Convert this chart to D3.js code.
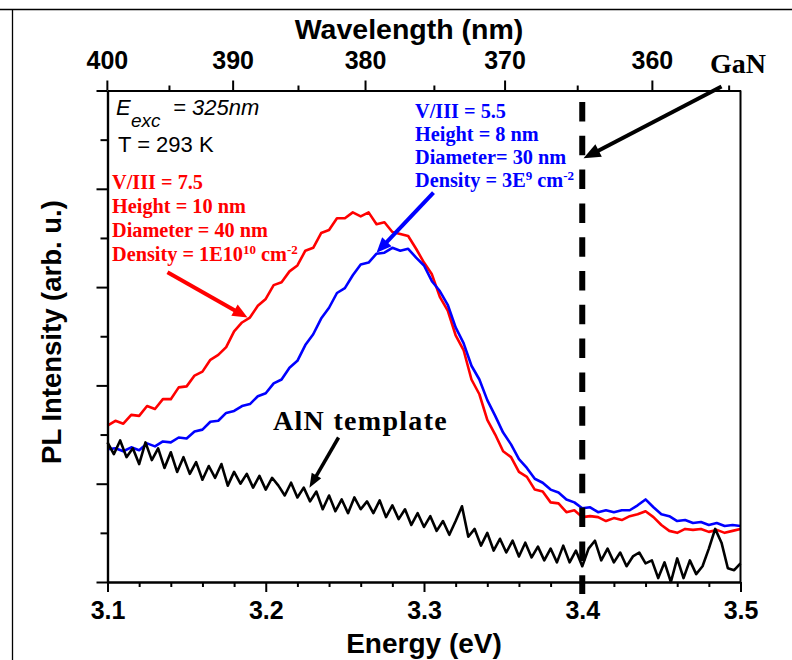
<!DOCTYPE html>
<html>
<head>
<meta charset="utf-8">
<script src="https://cdn.jsdelivr.net/npm/d3@7"></script>
<style>
  html, body { margin: 0; padding: 0; background: #fff; }
  svg { display: block; }
</style>
</head>
<body>
<svg id="chart" width="792" height="660"></svg>
<script>
// ---- data -------------------------------------------------------------
// Photon energy grid (eV): start and step of each sampled spectrum
const energyStart = 3.1;
const spectrumStep = 0.005;   // QD spectra
const templateStep = 0.004;   // AlN template spectrum

// PL intensity (arb. u.), QD sample grown with V/III = 7.5
const redPL = [
  159, 164, 161, 170, 169, 179, 176, 186, 186, 198,
  199, 210, 214, 226, 231, 239, 255, 264, 269, 281,
  288, 302, 305, 316, 322, 337, 340, 355, 358, 370,
  370, 376, 372, 376, 364, 366, 356, 354, 352, 339,
  325, 313, 290, 276, 251, 236, 206, 191, 165, 150,
  133, 127, 112, 107, 94, 92, 81, 80, 71, 73,
  66, 67, 66, 62, 65, 63, 67, 69, 72, 66,
  58, 52, 50, 54, 53, 54, 51, 53, 50, 52, 54
];

// PL intensity (arb. u.), QD sample grown with V/III = 5.5
const bluePL = [
  135, 136, 133, 137, 134, 141, 138, 143, 142, 147,
  146, 153, 155, 163, 164, 172, 174, 179, 181, 189,
  192, 202, 206, 218, 225, 241, 252, 268, 279, 294,
  299, 312, 323, 325, 334, 335, 340, 337, 339, 330,
  322, 306, 296, 282, 259, 243, 220, 206, 185, 169,
  152, 140, 125, 116, 105, 101, 94, 91, 84, 81,
  75, 76, 71, 73, 71, 73, 73, 78, 84, 76,
  69, 67, 62, 63, 60, 61, 58, 60, 57, 58, 57
];

// PL intensity (arb. u.), bare AlN template
const alnPL = [
  142, 130, 144, 127, 136, 120, 142, 124, 136, 116,
  132, 112, 127, 110, 122, 104, 118, 106, 120, 98,
  112, 100, 110, 96, 108, 94, 106, 98, 88, 101,
  86, 96, 82, 92, 74, 88, 72, 84, 70, 86,
  74, 82, 70, 83, 66, 78, 64, 74, 58, 70,
  56, 67, 52, 62, 48, 62, 77, 46, 54, 37,
  50, 32, 44, 30, 42, 26, 40, 25, 36, 22,
  34, 20, 37, 20, 32, 16, 34, 42, 22, 34,
  20, 30, 16, 26, 30, 19, 22, 4, 20, 0,
  24, 4, 22, 8, 16, 34, 54, 40, 14, 12, 19
];

// Axis ticks
const energyTicks = [3.1, 3.2, 3.3, 3.4, 3.5];
const energyMinorTicks = [3.12, 3.14, 3.16, 3.18, 3.22, 3.24, 3.26, 3.28,
                          3.32, 3.34, 3.36, 3.38, 3.42, 3.44, 3.46, 3.48];
const wavelengthTicks = [400, 390, 380, 370, 360];
const wavelengthMinorTicks = [395, 385, 375, 365, 355];
const intensityTicks = [0, 100, 200, 300, 400, 500];
const intensityMinorTicks = [50, 150, 250, 350, 450];

// GaN band-edge energy (eV)
const ganEdge = 3.4;

// ---- scales -------------------------------------------------------------
const HC = 1239.84; // eV·nm
const svg = d3.select('#chart');
const x = d3.scaleLinear().domain([3.1, 3.5]).range([107.5, 740.5]);
const y = d3.scaleLinear().domain([0, 500]).range([582, 90.5]);

const sans = '"Liberation Sans", Arial, Helvetica, sans-serif';
const serif = '"Liberation Serif", "Times New Roman", Times, serif';

// figure frame
svg.append('line').attr('x1', 0).attr('x2', 792).attr('y1', 9.5).attr('y2', 9.5)
  .attr('stroke', '#000').attr('stroke-width', 1.3);
svg.append('line').attr('x1', 12.5).attr('x2', 12.5).attr('y1', 9).attr('y2', 660)
  .attr('stroke', '#000').attr('stroke-width', 1.3);

// ---- curves -------------------------------------------------------------
const toSeries = (arr, step) => arr.map((v, i) => ({ e: energyStart + i * step, v }));
const line = d3.line().x(d => x(d.e)).y(d => y(d.v));

const gCurves = svg.append('g');
[
  { data: toSeries(redPL, spectrumStep), color: '#ff0000' },
  { data: toSeries(bluePL, spectrumStep), color: '#0000ff' },
  { data: toSeries(alnPL, templateStep), color: '#000000' }
].forEach(s => {
  gCurves.append('path')
    .datum(s.data)
    .attr('d', line)
    .attr('fill', 'none')
    .attr('stroke', s.color)
    .attr('stroke-width', 2.6)
    .attr('stroke-linejoin', 'round');
});

// ---- axes ---------------------------------------------------------------
function styleAxis(g, fontSize) {
  g.select('.domain').attr('stroke', '#000').attr('stroke-width', 2.2);
  g.selectAll('.tick line').attr('stroke', '#000').attr('stroke-width', 2);
  g.selectAll('.tick text')
    .attr('fill', '#000')
    .style('font-family', sans)
    .style('font-weight', 'bold')
    .style('font-size', fontSize + 'px');
}

// bottom: energy
const gBottom = svg.append('g').attr('transform', 'translate(0,582)');
gBottom.call(d3.axisBottom(x).tickValues(energyTicks).tickFormat(d3.format('.1f'))
  .tickSize(10).tickPadding(9).tickSizeOuter(0));
styleAxis(gBottom, 25);
const gBottomMinor = svg.append('g').attr('transform', 'translate(0,582)');
gBottomMinor.call(d3.axisBottom(x).tickValues(energyMinorTicks).tickFormat('')
  .tickSize(5).tickSizeOuter(0));
styleAxis(gBottomMinor, 25);

// top: wavelength (nonlinear in energy)
const gTop = svg.append('g').attr('transform', 'translate(0,90.5)');
gTop.call(d3.axisTop(x).tickValues(wavelengthTicks.map(w => HC / w))
  .tickFormat(e => Math.round(HC / e))
  .tickSize(10).tickPadding(12).tickSizeOuter(0));
styleAxis(gTop, 25);
const gTopMinor = svg.append('g').attr('transform', 'translate(0,90.5)');
gTopMinor.call(d3.axisTop(x).tickValues(wavelengthMinorTicks.map(w => HC / w))
  .tickFormat('').tickSize(5).tickSizeOuter(0));
styleAxis(gTopMinor, 25);

// left: intensity (unlabelled)
const gLeft = svg.append('g').attr('transform', 'translate(107.5,0)');
gLeft.call(d3.axisLeft(y).tickValues(intensityTicks).tickFormat('')
  .tickSize(11).tickSizeOuter(0));
styleAxis(gLeft, 25);
const gLeftMinor = svg.append('g').attr('transform', 'translate(107.5,0)');
gLeftMinor.call(d3.axisLeft(y).tickValues(intensityMinorTicks).tickFormat('')
  .tickSize(7).tickSizeOuter(0));
styleAxis(gLeftMinor, 25);

// right frame edge
svg.append('line')
  .attr('x1', x(3.5)).attr('x2', x(3.5))
  .attr('y1', y(500)).attr('y2', y(0))
  .attr('stroke', '#000').attr('stroke-width', 2);

// axis titles
svg.append('text').attr('x', 409).attr('y', 39).attr('text-anchor', 'middle')
  .style('font-family', sans).style('font-weight', 'bold').style('font-size', '28.5px')
  .text('Wavelength (nm)');
svg.append('text').attr('x', 424).attr('y', 653).attr('text-anchor', 'middle')
  .style('font-family', sans).style('font-weight', 'bold').style('font-size', '28px')
  .text('Energy (eV)');
svg.append('text').attr('transform', 'translate(60.5,332) rotate(-90)')
  .attr('text-anchor', 'middle')
  .style('font-family', sans).style('font-weight', 'bold').style('font-size', '27.5px')
  .text('PL Intensity (arb. u.)');

// ---- GaN band edge ------------------------------------------------------
svg.append('line')
  .attr('x1', x(ganEdge)).attr('x2', x(ganEdge))
  .attr('y1', 102).attr('y2', 594)
  .attr('stroke', '#000').attr('stroke-width', 6)
  .attr('stroke-dasharray', '19.5 14.3');

// ---- annotations ----------------------------------------------------------
function arrow(e1, v1, e2, v2, color, width, headLen, headWidth) {
  const x1 = x(e1), y1 = y(v1), x2 = x(e2), y2 = y(v2);
  const dx = x2 - x1, dy = y2 - y1, L = Math.hypot(dx, dy);
  const ux = dx / L, uy = dy / L;
  const bx = x2 - ux * headLen, by = y2 - uy * headLen;
  svg.append('line')
    .attr('x1', x1).attr('y1', y1).attr('x2', bx + ux * 2).attr('y2', by + uy * 2)
    .attr('stroke', color).attr('stroke-width', width);
  svg.append('path')
    .attr('d', `M${x2},${y2}L${bx - uy * headWidth / 2},${by + ux * headWidth / 2}` +
               `L${bx + uy * headWidth / 2},${by - ux * headWidth / 2}Z`)
    .attr('fill', color);
}

arrow(3.1379, 315, 3.1885, 269, '#ff0000', 4, 15, 13);   // V/III = 7.5 label
arrow(3.3060, 396, 3.2700, 335, '#0000ff', 4, 15, 13);   // V/III = 5.5 label
arrow(3.2460, 147, 3.2276, 96, '#000000', 3.5, 14, 11);  // AlN template label
arrow(3.4880, 504, 3.4008, 431, '#000000', 4, 17, 14);   // GaN label

// excitation and temperature
const tExc = svg.append('text').attr('y', 115)
  .style('font-family', sans).style('font-style', 'italic').style('font-size', '22px');
tExc.append('tspan').attr('x', 116).text('E');
tExc.append('tspan').attr('x', 131).attr('dy', 12).style('font-size', '19px').text('exc');
tExc.append('tspan').attr('x', 173).attr('dy', -12).text('= 325nm');

svg.append('text').attr('x', 118).attr('y', 152)
  .style('font-family', sans).style('font-size', '22px').text('T = 293 K');

// sample descriptions; array parts are superscripts
function block(x0, y0, dy, color, lines) {
  const g = svg.append('g');
  lines.forEach((parts, i) => {
    const t = g.append('text').attr('x', x0).attr('y', y0 + i * dy)
      .attr('fill', color)
      .style('font-family', serif).style('font-weight', 'bold').style('font-size', '20.3px');
    let raised = false;
    parts.forEach(p => {
      if (Array.isArray(p)) {
        t.append('tspan').attr('dy', raised ? 0 : -7).style('font-size', '13px').text(p[0]);
        raised = true;
      } else {
        t.append('tspan').attr('dy', raised ? 7 : 0).text(p);
        raised = false;
      }
    });
  });
}

block(112, 189, 24, '#ff0000', [
  ['V/III = 7.5'],
  ['Height = 10 nm'],
  ['Diameter = 40 nm'],
  ['Density = 1E10', ['10'], ' cm', ['-2']]
]);

block(415, 118, 23, '#0000ff', [
  ['V/III = 5.5'],
  ['Height = 8 nm'],
  ['Diameter= 30 nm'],
  ['Density = 3E', ['9'], ' cm', ['-2']]
]);

svg.append('text').attr('x', 273).attr('y', 430)
  .style('font-family', serif).style('font-weight', 'bold').style('font-size', '28px')
  .style('letter-spacing', '1.3px')
  .text('AlN template');

svg.append('text').attr('x', 710).attr('y', 73)
  .style('font-family', serif).style('font-weight', 'bold').style('font-size', '28px')
  .text('GaN');
</script>
</body>
</html>
